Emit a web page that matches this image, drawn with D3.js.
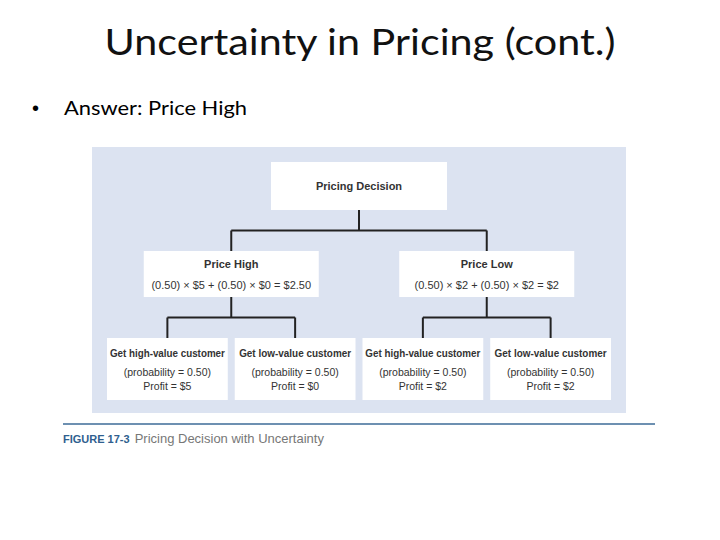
<!DOCTYPE html>
<html><head><meta charset="utf-8">
<script src="https://cdn.jsdelivr.net/npm/d3@7"></script>
<style>body{margin:0;background:#fff}</style>
</head><body>
<svg id="c" width="720" height="540"></svg>
<script>
// slide text
var title = 'Uncertainty in Pricing (cont.)';
var bullet = 'Answer: Price High';

// decision tree contents
var rootLabel = ['Pricing Decision'];
var branchLabels = [
    ['Price High', '(0.50) × $5 + (0.50) × $0 = $2.50'],
    ['Price Low', '(0.50) × $2 + (0.50) × $2 = $2']
];
var leafLabels = [
    ['Get high-value customer', '(probability = 0.50)', 'Profit = $5'],
    ['Get low-value customer', '(probability = 0.50)', 'Profit = $0'],
    ['Get high-value customer', '(probability = 0.50)', 'Profit = $2'],
    ['Get low-value customer', '(probability = 0.50)', 'Profit = $2']
];
var leafParent = [0, 0, 1, 1];
var captionNum = 'FIGURE 17-3';
var captionText = 'Pricing Decision with Uncertainty';

var svg = d3.select('#c');
var font = 'Liberation Sans, Arial, sans-serif';
var slideFont = 'Lato, "Open Sans", sans-serif';

svg.append('text').attr('x', 360).attr('y', 55).attr('text-anchor', 'middle')
    .style('font-family', slideFont).style('font-size', '36px')
    .attr('fill', '#111')
    .attr('textLength', 511).attr('lengthAdjust', 'spacingAndGlyphs')
    .text(title);
svg.append('text').attr('x', 32).attr('y', 115).style('font-size', '20px')
    .style('font-family', font).text('•');
svg.append('text').attr('x', 64).attr('y', 115)
    .style('font-family', slideFont).style('font-size', '20px')
    .attr('textLength', 183).attr('lengthAdjust', 'spacingAndGlyphs')
    .text(bullet);

// panel
svg.append('rect').attr('x', 92).attr('y', 147).attr('width', 534).attr('height', 266)
    .attr('fill', '#dce3f1');

var x = d3.scaleBand().domain(d3.range(leafLabels.length)).range([107, 611]).paddingInner(7 / 128);
var leafCx = leafLabels.map(function(d, i){ return x(i) + x.bandwidth() / 2; });
var branchCx = branchLabels.map(function(d, j){
    return d3.mean(leafCx.filter(function(c, i){ return leafParent[i] === j; }));
});
var rootCx = d3.mean(branchCx);

var y = {root: [162, 210], branch: [251, 297], leaf: [338, 400]};
var line = svg.append('g').attr('stroke', '#222').attr('stroke-width', 2).attr('fill', 'none');

function connect(px, py0, kids, ky1) {
    var mid = (py0 + ky1) / 2;
    line.append('path').attr('d', 'M' + px + ',' + py0 + 'V' + mid);
    line.append('path').attr('d', 'M' + d3.min(kids) + ',' + mid + 'H' + d3.max(kids));
    kids.forEach(function(k){
        line.append('path').attr('d', 'M' + k + ',' + mid + 'V' + ky1);
    });
}
connect(rootCx, y.root[1], branchCx, y.branch[0]);
branchCx.forEach(function(c, j){
    connect(c, y.branch[1], leafCx.filter(function(v, i){ return leafParent[i] === j; }), y.leaf[0]);
});

function box(cx, w, yy, lines, sizes, weights, dy, fit) {
    svg.append('rect').attr('x', cx - w / 2).attr('y', yy[0]).attr('width', w)
        .attr('height', yy[1] - yy[0]).attr('fill', '#fff');
    lines.forEach(function(t, i){
        var tx = svg.append('text').attr('x', cx).attr('y', dy[i]).attr('text-anchor', 'middle')
            .style('font-family', font)
            .style('font-size', sizes[i] + 'px').style('font-weight', weights[i])
            .attr('fill', '#333').text(t);
        if (fit && fit[i]) tx.attr('textLength', fit[i]).attr('lengthAdjust', 'spacingAndGlyphs');
    });
}
box(rootCx, 176, y.root, rootLabel, [11], ['bold'], [190]);
branchLabels.forEach(function(d, j){
    box(branchCx[j], 175, y.branch, d, [11, 11], ['bold', 'normal'], [268, 289]);
});
leafLabels.forEach(function(d, i){
    box(leafCx[i], x.bandwidth(), y.leaf, d, [10.5, 10.5, 10.5], ['bold', 'normal', 'normal'],
        [357, 376, 390], [i % 2 ? 112 : 115, 0, 0]);
});

// caption
svg.append('line').attr('x1', 63).attr('x2', 655).attr('y1', 424).attr('y2', 424)
    .attr('stroke', '#3d6b97').attr('stroke-width', 1.5);
var cap = svg.append('text').attr('x', 63).attr('y', 443).style('font-family', font);
cap.append('tspan').attr('fill', '#2f5f8f').style('font-weight', 'bold').style('font-size', '11px')
    .text(captionNum);
cap.append('tspan').attr('dx', 5).attr('fill', '#777').style('font-size', '13px').text(captionText);
</script>
</body></html>
